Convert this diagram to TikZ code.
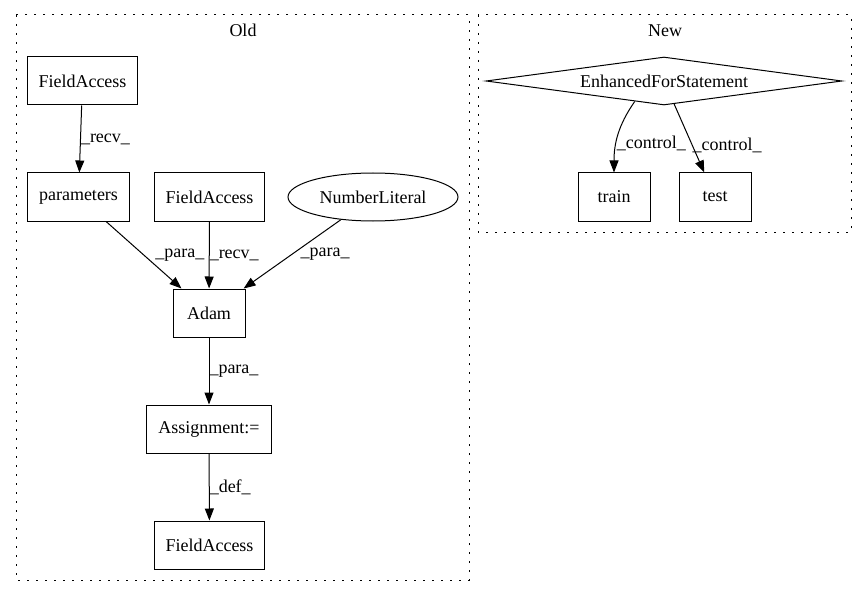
\documentclass[tikz,border=0pt]{standalone}
\usepackage{fontspec}
\setmainfont{Liberation Serif}
\usetikzlibrary{arrows.meta,shapes.geometric}

\tikzset{
  box/.style={draw, line width=1pt, rectangle, minimum width=72pt, minimum height=48pt, inner xsep=11.5pt},
  ell/.style={draw, line width=1pt, ellipse, minimum width=170pt, minimum height=48pt, inner sep=0pt},
  dia/.style={draw, line width=1pt, diamond, aspect=7.4, minimum width=356pt, minimum height=48pt, inner sep=0pt},
  cluster/.style={line width=1pt, dash pattern=on 2pt off 7pt},
  flow/.style={line width=1pt, -{Triangle[length=12pt,width=9pt]}},
  lbl/.style={anchor=west, inner sep=0pt},
}

\begin{document}
\begin{tikzpicture}[x=1pt,y=1pt,font=\fontsize{18}{22}\selectfont]
	\useasboundingbox (0,0) rectangle (867,-596);
	% clusters
	\draw[cluster] (16,-15) rectangle (469,-580);
	\draw[cluster] (478,-15) rectangle (851,-232);
	\node (oldtitle) at (243,-30) {Old};
	\node (newtitle) at (665,-31) {New};
	% old graph
	\node[box] (fa1) at (82.5,-81) {FieldAccess};
	\node[box] (params) at (78.5,-197) {parameters};
	\node[box] (fa2) at (209.5,-197) {FieldAccess};
	\node[ell] (numlit) at (373,-197) {NumberLiteral};
	\node[box] (adam) at (209,-313) {Adam};
	\node[box] (assign) at (209,-429) {Assignment:=};
	\node[box] (fa3) at (209.5,-545) {FieldAccess};
	\draw[flow] (fa1) -- node[lbl] (l1) {\_recv\_} (params);
	\draw[flow] (params) -- node[lbl, xshift=11pt] (l2) {\_para\_} (adam);
	\draw[flow] (fa2) -- node[lbl] (l3) {\_recv\_} (adam);
	\draw[flow] (numlit) -- node[lbl, xshift=8pt] (l4) {\_para\_} (adam);
	\draw[flow] (adam) -- node[lbl] (l5) {\_para\_} (assign);
	\draw[flow] (assign) -- node[lbl] (l6) {\_def\_} (fa3);
	% new graph
	\node[dia] (efs) at (664,-81) {EnhancedForStatement};
	\node[box] (train) at (614,-197) {train};
	\node[box] (test) at (715,-197) {test};
	\draw[flow] (efs.215) to[out=235, in=90] node[lbl, pos=0.62] (l7) {\_control\_} (train.north);
	\draw[flow] (efs) -- node[lbl, pos=0.6] (l8) {\_control\_} (test);
\end{tikzpicture}
\end{document}
